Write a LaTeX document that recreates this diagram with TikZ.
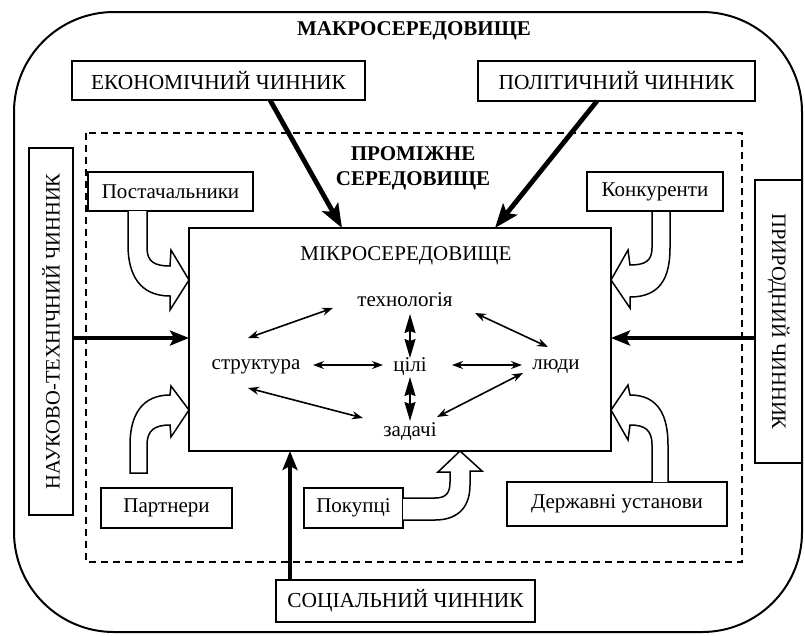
\documentclass[tikz,border=0pt]{standalone}
\usepackage{fontspec}
\setmainfont{Liberation Serif}
\usetikzlibrary{arrows.meta,calc}
\newcommand{\fsz}[1]{\fontsize{#1}{#1}\selectfont}
\begin{document}
\begin{tikzpicture}[x=1pt,y=-1pt,
  box/.style={draw,line width=1.8pt,fill=white,inner sep=0pt,anchor=center},
  thickarr/.style={line width=4.8pt,-{Stealth[length=24pt,width=18pt,inset=5pt]}},
  medarr/.style={line width=3.6pt,-{Stealth[length=19pt,width=15pt,inset=4pt]}},
  dbl/.style={line width=1.6pt,{Stealth[length=11pt,width=8pt]}-{Stealth[length=11pt,width=8pt]}},
  vdbl/.style={line width=1.5pt,{Stealth[length=19pt,width=11pt,inset=2pt]}-{Stealth[length=19pt,width=11pt,inset=2pt]}},
  blockarr/.style={draw,line width=1.5pt,fill=white,line join=miter},
  txt/.style={inner sep=0pt,anchor=center}]
\useasboundingbox (0,0) rectangle (805,635);
% macro environment
\draw[line width=2pt,rounded corners=100pt] (14,12) rectangle (802,632);
\node[txt,font=\fsz{21}\bfseries] (macro) at (414,31) {МАКРОСЕРЕДОВИЩЕ};
% intermediate environment
\draw[line width=1.8pt,dash pattern=on 7pt off 5pt] (86,133) rectangle (742,562);
\node[txt,font=\fsz{21}\bfseries,align=center] (inter) at (413,168) {ПРОМІЖНЕ\\[4pt]СЕРЕДОВИЩЕ};
% factor boxes
\node[box,minimum width=293pt,minimum height=39pt,font=\fsz{21.4}] (econ) at (218.5,80.5) {ЕКОНОМІЧНИЙ ЧИННИК};
\node[box,minimum width=277pt,minimum height=40pt,font=\fsz{21.4}] (polit) at (616.5,81) {ПОЛІТИЧНИЙ ЧИННИК};
\node[box,minimum width=259pt,minimum height=42pt,font=\fsz{21.4}] (soc) at (405.5,601) {СОЦІАЛЬНИЙ ЧИННИК};
\node[box,minimum width=367pt,minimum height=44pt,font=\fsz{20.5},rotate=90] (sci) at (51,331.5) {НАУКОВО-ТЕХНІЧНИЙ ЧИННИК};
\node[box,minimum width=283pt,minimum height=47pt,font=\fsz{20.5},rotate=-90] (nat) at (778.5,321.5) {ПРИРОДНИЙ ЧИННИК};
% intermediate boxes
\node[box,minimum width=165pt,minimum height=39pt,font=\fsz{21}] (supp) at (170.5,191.5) {Постачальники};
\node[box,minimum width=136pt,minimum height=39pt,font=\fsz{21}] (comp) at (655,191.5) {Конкуренти};
\node[box,minimum width=131pt,minimum height=40pt,font=\fsz{21}] (part) at (166.5,508) {Партнери};
\node[box,minimum width=99pt,minimum height=40pt,font=\fsz{21}] (cust) at (353.5,508) {Покупці};
\node[box,minimum width=220pt,minimum height=44pt,font=\fsz{21}] (gov) at (617,504) {Державні установи};
% block arrows
\draw[blockarr] (147,211) -- (147,248) .. controls (147,262) and (155,266) .. (170,266) -- (171,250) -- (189,280) -- (170,310) -- (170,296) .. controls (140,296) and (128,275) .. (128,245) -- (128,211);
\draw[blockarr] (147,473) -- (147,445) .. controls (147,430) and (155,425) .. (170,425) -- (171,437) -- (189,410) -- (171,386) -- (170,395) .. controls (142,395) and (130,415) .. (130,445) -- (130,473) -- cycle;
\draw[blockarr] (652,212) -- (652,248) .. controls (652,261) and (645,265) .. (630,265) -- (628,250) -- (611,280) -- (630,308) -- (630,297) .. controls (660,297) and (670,278) .. (670,248) -- (670,212);
\draw[blockarr] (652,482) -- (652,445) .. controls (652,430) and (645,425) .. (630,425) -- (628,440) -- (611,410) -- (628,385) -- (630,395) .. controls (658,395) and (668,415) .. (668,445) -- (668,482);
\draw[blockarr] (403,498) -- (435,498) .. controls (446,498) and (450,493) .. (450,482) -- (450,472) -- (438,472) -- (460,451) -- (482,471) -- (470,471) -- (470,485) .. controls (470,510) and (455,520) .. (435,520) -- (403,520);
% micro environment
\node[box,minimum width=422pt,minimum height=223pt] (micro) at (400,339.5) {};
\node[txt,font=\fsz{21}] (microt) at (406,256) {МІКРОСЕРЕДОВИЩЕ};
\node[txt,font=\fsz{21}] (tech) at (405,300) {технологія};
\node[txt,font=\fsz{21}] (struct) at (256,367) {структура};
\node[txt,font=\fsz{21}] (goals) at (410,367) {цілі};
\node[txt,font=\fsz{21}] (people) at (556,367) {люди};
\node[txt,font=\fsz{21}] (tasks) at (410,432) {задачі};
% inner arrows
\draw[dbl] (248,338) -- (333,308);
\draw[dbl] (475,313) -- (548,347);
\draw[dbl] (313,365) -- (383,365);
\draw[dbl] (452,365) -- (522,365);
\draw[dbl] (248,388) -- (363,418);
\draw[dbl] (437,417) -- (523,373);
\draw[vdbl] (410,314) -- (410,358);
\draw[vdbl] (410,377) -- (410,421);
% factor arrows
\coordinate (econS) at (270,100);
\coordinate (econE) at (342,228);
\coordinate (politS) at (597,101);
\coordinate (politE) at (495,228);
\coordinate (sciS) at (73,338);
\coordinate (sciE) at (189,338);
\coordinate (natS) at (755,338);
\coordinate (natE) at (611,338);
\coordinate (socS) at (290,580);
\coordinate (socE) at (290,451);
\draw[thickarr] (econS) -- (econE);
\draw[thickarr] (politS) -- (politE);
\draw[medarr] (sciS) -- (sciE);
\draw[medarr] (natS) -- (natE);
\draw[medarr] (socS) -- (socE);
\end{tikzpicture}
\end{document}
